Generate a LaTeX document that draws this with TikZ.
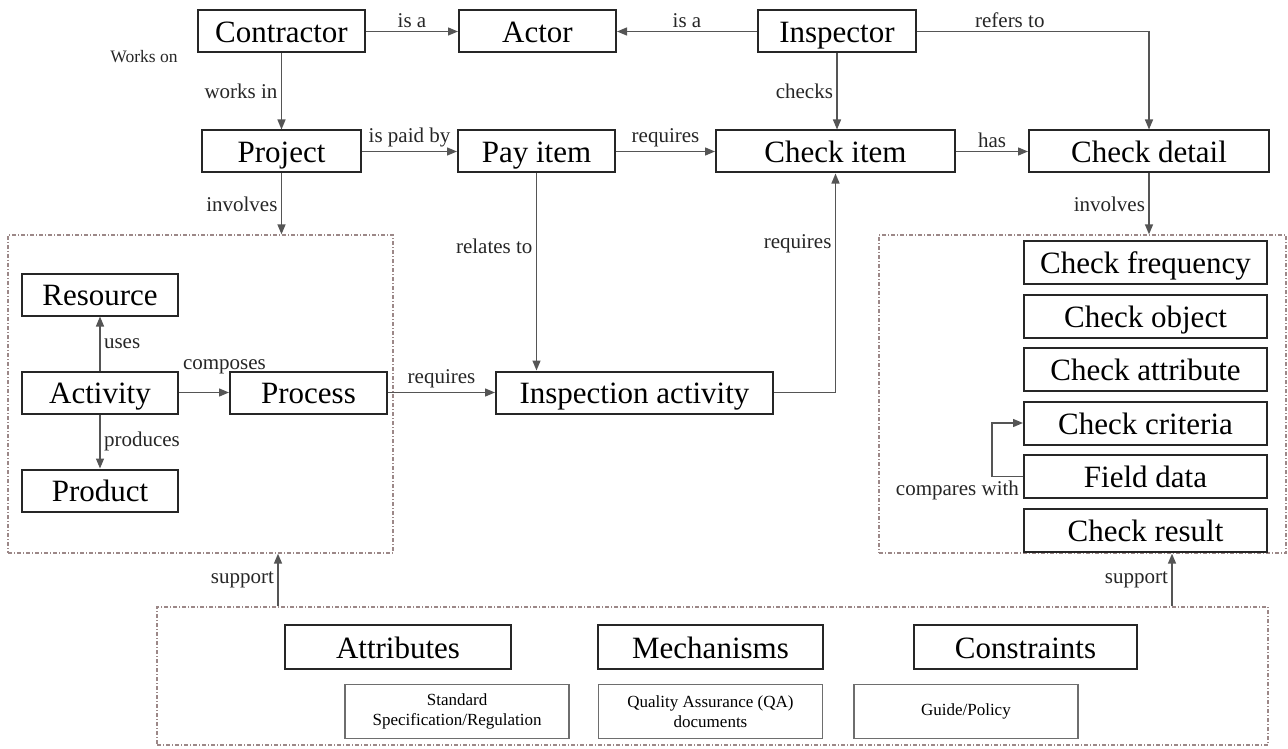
\documentclass[tikz,border=0pt]{standalone}
\usepackage{fontspec}
\setmainfont{Liberation Serif}
\usepackage{xcolor}
\usepackage{tikz}
\usetikzlibrary{arrows.meta, positioning}
\definecolor{cInk}{HTML}{262626}
\definecolor{cLine}{HTML}{555555}
\definecolor{cSoft}{HTML}{6E6E6E}
\definecolor{cFrame}{HTML}{9C8888}
\tikzset{
  concept/.style={rectangle, draw=cInk, line width=2pt, fill=white, align=center,
    font=\fontsize{31}{36}\selectfont, inner sep=0pt, minimum height=42pt, text height=24pt, text depth=2pt},
  item/.style={concept, minimum width=243pt, minimum height=43pt},
  source/.style={rectangle, draw=cSoft, line width=1.4pt, fill=white, align=center,
    font=\fontsize{17}{20}\selectfont, inner sep=0pt, minimum height=54pt, minimum width=224pt},
  frame/.style={rectangle, draw=cFrame, line width=1.3pt, dash pattern=on 4pt off 2pt on 1pt off 2pt, inner sep=0pt},
  flow/.style={-{Triangle[length=10pt, width=8pt]}, draw=cLine, line width=1.4pt},
  rel/.style={font=\fontsize{21}{25}\selectfont, text=cInk},
}

\begin{document}
\begin{tikzpicture}[x=1pt, y=-1pt]
\useasboundingbox (0,0) rectangle (1288,749);
% dashed areas
\node[frame, minimum width=385pt, minimum height=318pt] (procframe) at (200.5,394) {};
\node[frame, minimum width=407pt, minimum height=318pt] (detailframe) at (1082.5,394) {};
\node[frame, minimum width=1111pt, minimum height=138pt] (supframe) at (712.5,676) {};
% top rows
\node[concept, minimum width=167pt] (contractor) at (281.5,31.5) {Contractor};
\node[concept, minimum width=157pt, right=92pt of contractor] (actor) {Actor};
\node[concept, minimum width=158pt, right=140pt of actor] (inspector) {Inspector};
\node[concept, minimum width=159pt, below=76pt of contractor] (project) {Project};
\node[concept, minimum width=157pt, right=95pt of project] (payitem) {Pay item};
\node[concept, minimum width=239pt, right=99pt of payitem] (checkitem) {Check item};
\node[concept, minimum width=240pt, right=72pt of checkitem] (checkdetail) {Check detail};
\node[font=\fontsize{17.5}{20}\selectfont, text=cInk] (workson) at (144,57) {Works on};
% process area
\node[concept, minimum width=156pt] (activity) at (100,392.5) {Activity};
\node[concept, minimum width=156pt, above=54pt of activity] (resource) {Resource};
\node[concept, minimum width=156pt, below=54pt of activity] (product) {Product};
\node[concept, minimum width=157pt, right=50pt of activity] (process) {Process};
\node[concept, minimum width=277pt, right=107pt of process] (inspection) {Inspection activity};
% check detail column
\node[item] (cfreq) at (1145.5,262.5) {Check frequency};
\node[item, below=8.5pt of cfreq] (cobj) {Check object};
\node[item, below=8.5pt of cobj] (cattr) {Check attribute};
\node[item, below=8.5pt of cattr] (ccrit) {Check criteria};
\node[item, below=8.5pt of ccrit] (fdata) {Field data};
\node[item, below=8.5pt of fdata] (cresult) {Check result};
% support area
\node[concept, minimum width=226pt, minimum height=44pt] (attributes) at (398,647) {Attributes};
\node[concept, minimum width=225pt, minimum height=44pt, right=85pt of attributes] (mechanisms) {Mechanisms};
\node[concept, minimum width=223pt, minimum height=44pt, right=89pt of mechanisms] (constraints) {Constraints};
\node[source, below=14pt of mechanisms] (qadocs) {Quality Assurance (QA)\\ documents};
\node[source, left=28pt of qadocs] (stdspec) {Standard\\ Specification/Regulation};
\node[source, right=30pt of qadocs] (guide) {Guide/Policy};
\coordinate (lsup) at (278,0);
\coordinate (rsup) at (1172,0);
% relations
\draw[flow] (contractor) -- (actor) node[rel, midway, above] {is a};
\draw[flow] (inspector) -- (actor) node[rel, midway, above] {is a};
\draw[flow] (inspector) -| (checkdetail) node[rel, pos=0.2, above] {refers to};
\draw[flow] (contractor) -- (contractor |- project.north) node[rel, midway, left] {works in};
\draw[flow] (project) -- (payitem) node[rel, midway, above] {is paid by};
\draw[flow] (payitem) -- (checkitem) node[rel, midway, above] {requires};
\draw[flow] (inspector) -- (inspector |- checkitem.north) node[rel, midway, left] {checks};
\draw[flow] (checkitem) -- (checkdetail) node[rel, midway, above] {has};
\draw[flow] (project) -- (project |- procframe.north) node[rel, midway, left] {involves};
\draw[flow] (checkdetail) -- (checkdetail |- detailframe.north) node[rel, midway, left] {involves};
\draw[flow] (payitem) -- (payitem |- inspection.north) node[rel, pos=0.37, left] {relates to};
\draw[flow] (inspection) -| (checkitem) node[rel, pos=0.84, left] {requires};
\draw[flow] (process) -- (inspection) node[rel, midway, above] {requires};
\draw[flow] (activity) -- (resource) node[rel, midway, right] {uses};
\draw[flow] (activity) -- (process) node[rel, pos=0, above right, yshift=14pt] {composes};
\draw[flow] (activity) -- (product) node[rel, midway, right] {produces};
\draw[flow] (fdata.west) node[rel, below left] {compares with} -- ++(-31,0) |- (ccrit.west);
\draw[flow] (lsup |- supframe.north) -- (lsup |- procframe.south) node[rel, midway, left] {support};
\draw[flow] (rsup |- supframe.north) -- (rsup |- detailframe.south) node[rel, midway, left] {support};
\end{tikzpicture}
\end{document}
